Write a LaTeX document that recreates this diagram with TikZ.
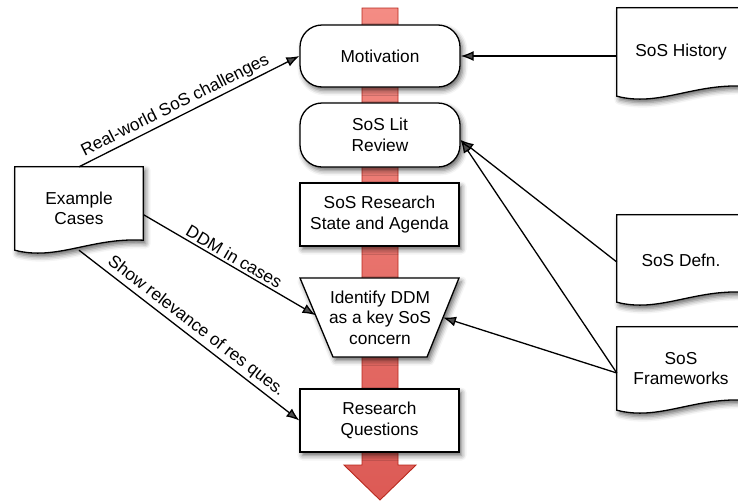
\documentclass[tikz,border=0pt]{standalone}
\usepackage{fontspec}
\setmainfont{Liberation Sans}
\usetikzlibrary{arrows.meta,shadows.blur,calc}
\definecolor{flowtop}{HTML}{F48C84}
\definecolor{flowbot}{HTML}{DC5A55}
\definecolor{flowedge}{HTML}{B8281C}

% outline of a document node: flat top, wavy bottom
\newcommand\docoutline[1]{%
  \draw[docline] (#1.north west) -- (#1.north east)
    -- ($(#1.south east)+(0,-10)$)
    .. controls ($(#1.south east)+(-52,-13)$) and ($(#1.south west)+(42,11)$)
    .. (#1.south west) -- cycle;}

\begin{document}
\begin{tikzpicture}[x=1pt,y=-1pt,
  boxshadow/.style={blur shadow={shadow xshift=2.5pt,shadow yshift=-3.5pt,
      shadow blur radius=5pt,shadow opacity=60}},
  txt/.style={align=center,font=\fontsize{17.3}{20.5}\selectfont},
  stage/.style={txt,draw,line width=1.3pt,fill=white,boxshadow,
      minimum width=159pt,minimum height=63pt,inner sep=0pt},
  pill/.style={stage,rounded corners=22pt},
  docline/.style={line width=1.3pt,fill=white,boxshadow},
  doc/.style={draw=none,minimum width=128pt,inner sep=0pt},
  link/.style={line width=1.3pt,-{Latex[length=13pt,width=10pt]}},
  tag/.style={txt,sloped,above,midway,inner sep=2.5pt}
]
\useasboundingbox (0,0) rectangle (738,501);

% the flow arrow running down the middle
\draw[flowedge,line width=0.9pt,top color=flowtop,bottom color=flowbot]
  (362,8) -- (398,8) -- (398,465) -- (416,465) -- (380,500)
  -- (344,465) -- (362,465) -- cycle;

% stages along the flow
\node[pill,minimum width=160pt,minimum height=62pt] (mot) at (380,56) {Motivation};
\node[pill,minimum width=160pt,minimum height=64pt] (lit) at (380,135) {SoS Lit\\Review};
\node[stage] (state) at (379.5,214.5) {SoS Research\\State and Agenda};
\coordinate (dtl) at (300,278);
\coordinate (dtr) at (459,278);
\coordinate (dbr) at (427,357);
\coordinate (dbl) at (333,357);
\draw[docline] (dtl) -- (dtr) -- (dbr) -- (dbl) -- cycle;
\node[txt] (ddm) at (380,317.5) {Identify DDM\\as a key SoS\\concern};
\node[stage] (rq) at (379.5,420.5) {Research\\Questions};

% source documents
\node[doc,minimum height=83pt] (ex) at (79,208.5) {};
\docoutline{ex}
\node[txt] (exlabel) at (ex) {Example\\Cases};

\node[doc,minimum height=88pt] (hist) at (681,52) {};
\docoutline{hist}
\node[txt] (histlabel) at (hist) {SoS History};

\node[doc,minimum height=87pt] (defn) at (681,258.5) {};
\docoutline{defn}
\node[txt] (defnlabel) at ([yshift=-2pt]defn.center) {SoS Defn.};

\node[doc,minimum height=83pt] (fw) at (681,368.5) {};
\docoutline{fw}
\node[txt] (fwlabel) at (fw) {SoS\\Frameworks};

% connectors
\draw[link] (ex.north) -- node[tag,pos=0.46] {Real-world SoS challenges} (mot.west);
\draw[link] ([yshift=-6pt]ex.east) -- node[tag] {DDM in cases} ($(dtl)!0.47!(dbl)$);
\draw[link] (ex.south) -- node[tag] {Show relevance of res ques.} (rq.west);
\draw[link] (hist.west |- mot.east) -- (mot.east);
\draw[link] ([yshift=-3.5pt]defn.west) -- ([yshift=-5pt]lit.east);
\draw[link] ([yshift=-4.5pt]fw.west) -- ([yshift=-5pt]lit.east);
\draw[link] ([yshift=-4.5pt]fw.west) -- ($(dtr)!0.5!(dbr)$);
\end{tikzpicture}
\end{document}
